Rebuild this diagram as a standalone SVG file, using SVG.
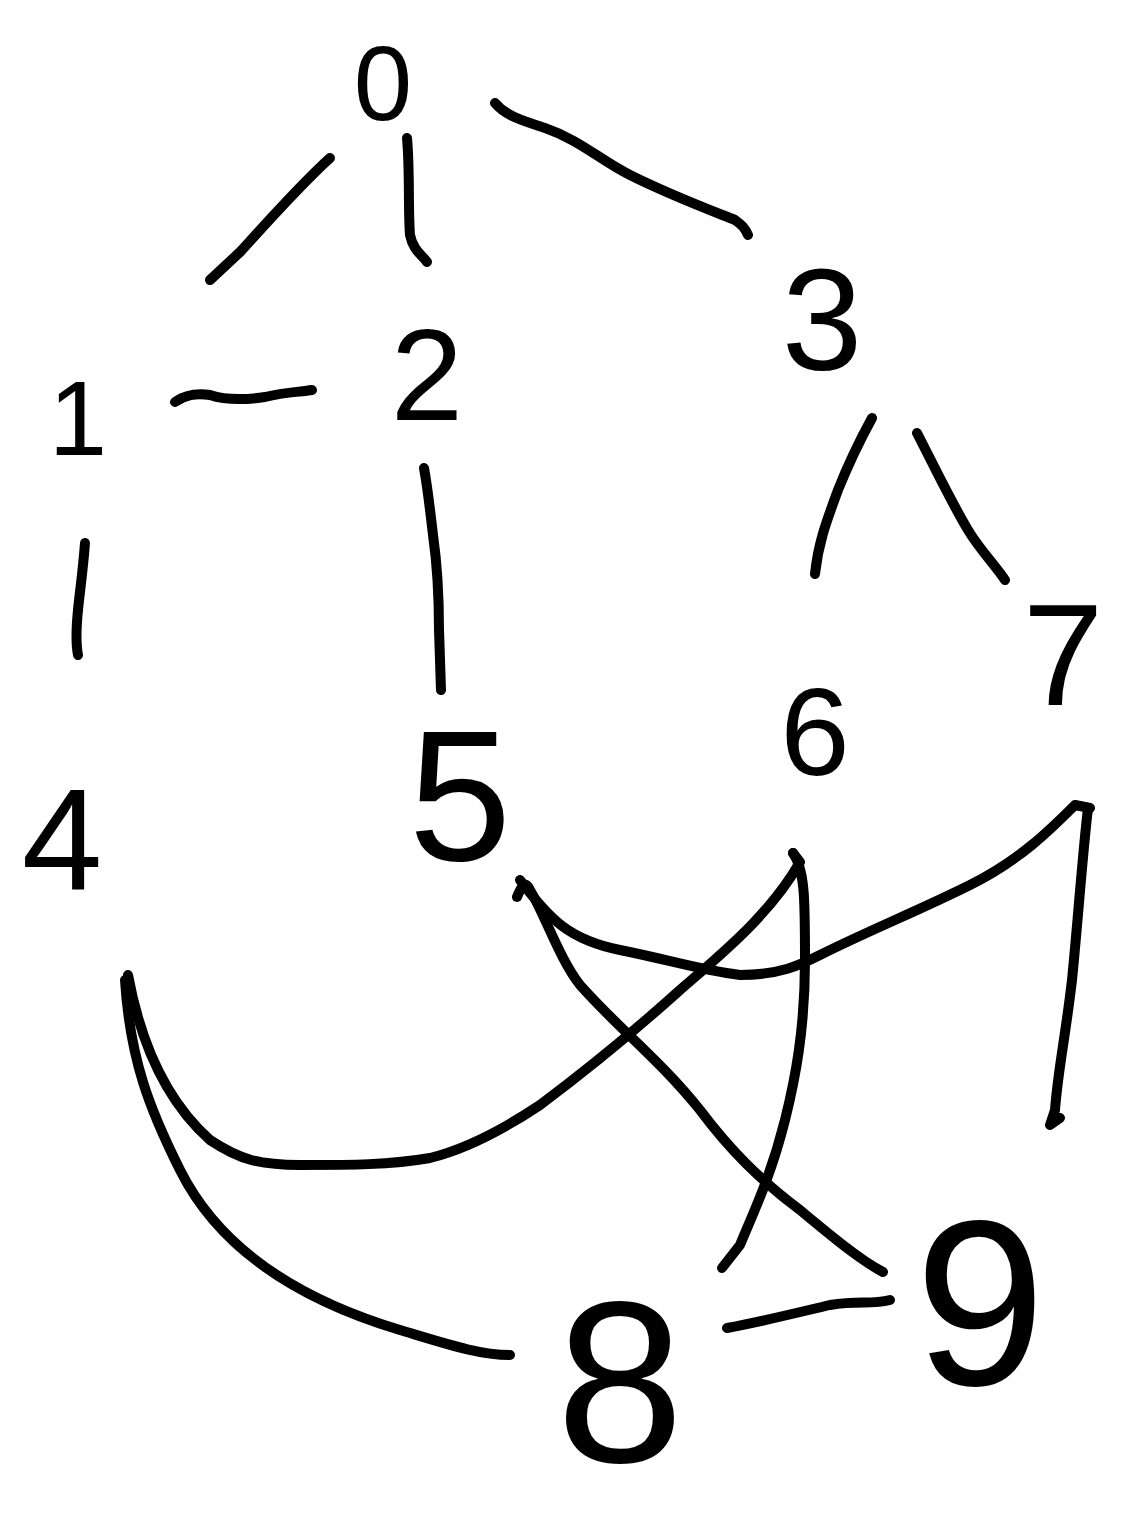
<svg xmlns="http://www.w3.org/2000/svg" width="1142" height="1521" viewBox="0 0 1142 1521">
<style>
.e{fill:none;stroke:#000;stroke-width:10;stroke-linecap:round;stroke-linejoin:round}
.n{font-family:"Liberation Sans",Arial,sans-serif;fill:#000;text-anchor:middle}
</style>
<rect width="1142" height="1521" fill="#fff"/>
<g id="connectors">
<path class="e" d="M330,158 C300,185 262,228 240,252 L210,280"/>
<path class="e" d="M407,138 C410,170 408,210 410,235 C413,250 422,255 427,262"/>
<path class="e" d="M495,103 C505,115 520,120 545,128 C580,140 600,160 630,175 C670,195 710,210 735,220 C742,225 745,228 748,235"/>
<path class="e" d="M175,402 C185,395 195,393 210,395 C225,400 245,400 265,397 C285,392 300,392 312,390"/>
<path class="e" d="M85,543 C83,570 80,590 78,610 C76,630 76,645 78,655"/>
<path class="e" d="M424,468 C428,490 430,510 433,535 C438,570 439,600 439,630 L441,690"/>
<path class="e" d="M872,418 C860,440 848,465 838,490 C825,525 818,545 815,574"/>
<path class="e" d="M917,433 C930,458 950,500 968,530 C980,550 995,565 1005,580"/>
<path class="e" d="M128,975 C140,1040 165,1100 210,1140 C240,1160 260,1165 300,1165 C350,1165 390,1165 430,1158 C470,1148 510,1125 540,1105 C580,1075 630,1035 680,990 C720,955 770,915 800,862 L793,853"/>
<path class="e" d="M125,980 C130,1060 150,1110 180,1170 C220,1250 300,1300 400,1330 C450,1345 480,1355 510,1355"/>
<path class="e" d="M520,880 C550,920 570,940 620,950 C670,960 700,970 740,975 C780,975 800,965 820,955 C870,930 920,910 970,885 C1020,860 1050,830 1075,805 L1090,808"/>
<path class="e" d="M517,897 C522,885 525,880 530,890 C545,915 560,960 580,985 C620,1030 660,1060 700,1110 C730,1150 760,1180 800,1210 C830,1235 860,1260 883,1272"/>
<path class="e" d="M793,853 C805,870 805,900 805,960 C805,1030 795,1080 785,1120 C770,1180 750,1220 740,1245 L722,1268"/>
<path class="e" d="M1088,808 C1082,860 1078,920 1072,980 C1065,1040 1058,1070 1055,1110 L1050,1125 L1060,1118"/>
<path class="e" d="M727,1328 C760,1322 800,1312 830,1305 C860,1300 870,1305 890,1300"/>
</g>
<g id="node0"><text class="n" x="383" y="120" font-size="105">0</text></g>
<g id="node1"><text class="n" x="78" y="455" font-size="105">1</text></g>
<g id="node2"><text class="n" x="427" y="420" font-size="130">2</text></g>
<g id="node3"><text class="n" x="822" y="370" font-size="145">3</text></g>
<g id="node4"><text class="n" x="62" y="890" font-size="145">4</text></g>
<g id="node5"><text class="n" x="460" y="860" font-size="185">5</text></g>
<g id="node6"><text class="n" x="815" y="775" font-size="125">6</text></g>
<g id="node7"><text class="n" x="1063" y="705" font-size="145">7</text></g>
<g id="node8"><text class="n" x="620" y="1462" font-size="230">8</text></g>
<g id="node9"><text class="n" x="980" y="1385" font-size="235">9</text></g>
</svg>
